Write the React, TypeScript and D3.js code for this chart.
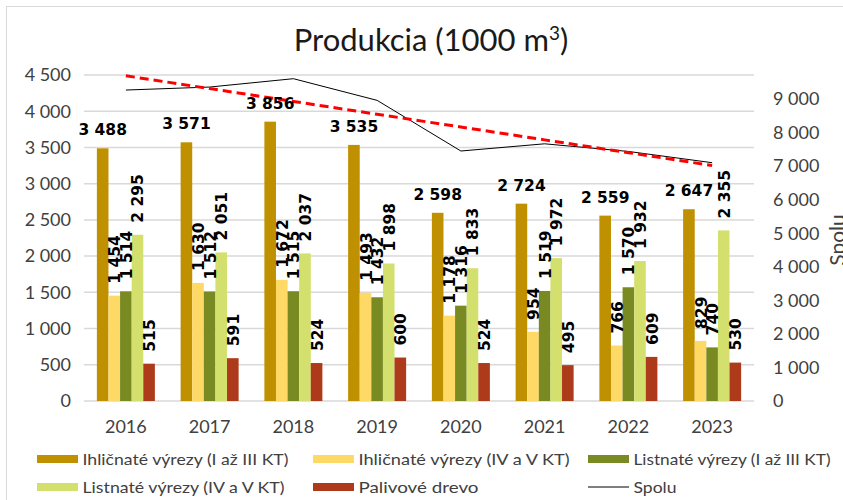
import React from 'react';
import * as d3 from 'd3';

const years = ['2016', '2017', '2018', '2019', '2020', '2021', '2022', '2023'];
const seriesNames = [
  'Ihličnaté výrezy (I až III KT)',
  'Ihličnaté výrezy (IV a V KT)',
  'Listnaté výrezy (I až III KT)',
  'Listnaté výrezy (IV a V KT)',
  'Palivové drevo',
];
const ihlI = [3488, 3571, 3856, 3535, 2598, 2724, 2559, 2647];
const ihlIV = [1454, 1630, 1672, 1493, 1178, 954, 766, 829];
const listI = [1514, 1512, 1515, 1432, 1316, 1519, 1570, 740];
const listIV = [2295, 2051, 2037, 1898, 1833, 1972, 1932, 2355];
const palivo = [515, 591, 524, 600, 524, 495, 609, 530];
const spolu = [9266, 9355, 9604, 8958, 7449, 7664, 7436, 7101];
const leftTicks = [0, 500, 1000, 1500, 2000, 2500, 3000, 3500, 4000, 4500];
const rightTicks = [0, 1000, 2000, 3000, 4000, 5000, 6000, 7000, 8000, 9000];

const colors = ['#BF9000', '#FFD966', '#7A8A22', '#D4E06E', '#AE3A1C'];
const seriesData = [ihlI, ihlIV, listI, listIV, palivo];

const fmt = (v: number) => d3.format(',')(v).replace(/,/g, ' ');

export default function App() {
  const W = 843, H = 500;
  const left = 84, right = 754, top = 75, bottom = 401;
  const x = d3.scaleBand<string>().domain(years).range([left, right]).paddingInner(0.3075).paddingOuter(0.15375);
  const xs = d3.scaleBand<number>().domain(d3.range(5)).range([0, x.bandwidth()]);
  const y = d3.scaleLinear().domain([0, 4500]).range([bottom, top]);
  const y2 = d3.scaleLinear().domain([0, 9714]).range([bottom, top]);
  const cx = (yr: string) => (x(yr) as number) + x.bandwidth() / 2;

  // linear trendline of Spolu (least squares)
  const idx = spolu.map((_, i) => i + 1);
  const mx = d3.mean(idx) as number;
  const my = d3.mean(spolu) as number;
  const slope = d3.sum(idx.map((xi, i) => (xi - mx) * (spolu[i] - my))) / d3.sum(idx.map((xi) => (xi - mx) ** 2));
  const trend = idx.map((xi) => my + slope * (xi - mx));

  const line = d3.line<number>().x((_, i) => cx(years[i])).y((d) => y2(d));

  const axisFont = 'Lato, "Open Sans", sans-serif';
  const labelFont = '"DejaVu Sans", sans-serif';
  const textColor = '#404040';

  const legendItems = [
    { row: 0, col: 0, type: 'bar', color: colors[0], name: seriesNames[0], len: 206 },
    { row: 0, col: 1, type: 'bar', color: colors[1], name: seriesNames[1], len: 211 },
    { row: 0, col: 2, type: 'bar', color: colors[2], name: seriesNames[2], len: 197 },
    { row: 1, col: 0, type: 'bar', color: colors[3], name: seriesNames[3], len: 202 },
    { row: 1, col: 1, type: 'bar', color: colors[4], name: seriesNames[4], len: 120 },
    { row: 1, col: 2, type: 'line', color: '#000', name: 'Spolu', len: 43 },
  ];
  const legendX = [37, 313, 588];
  const legendY = [459, 487];

  return (
    <svg width={W} height={H} style={{ position: 'absolute', left: 0, top: 0, background: '#fff' }}>
      <rect x={6.5} y={6.5} width={900} height={600} fill="#fff" stroke="#d9d9d9" strokeWidth={1} />
      <text x={431} y={51} textAnchor="middle" fontFamily={axisFont} fontSize={31} fill="#1a1a1a">
        Produkcia (1000 m<tspan dy={-11} fontSize={19}>3</tspan><tspan dy={11}>)</tspan>
      </text>

      {leftTicks.map((t) => (
        <g key={'g' + t}>
          <line x1={left} x2={right} y1={y(t)} y2={y(t)} stroke="#d9d9d9" strokeWidth={1.5} />
          <text x={71} y={y(t)} dy="0.35em" textAnchor="end" fontFamily={axisFont} fontSize={18} fill={textColor}>
            {fmt(t)}
          </text>
        </g>
      ))}
      {rightTicks.map((t) => (
        <text key={'r' + t} x={773} y={y2(t)} dy="0.35em" textAnchor="start" fontFamily={axisFont} fontSize={18} fill={textColor}>
          {fmt(t)}
        </text>
      ))}
      <text transform={`translate(845,240) rotate(-90)`} textAnchor="middle" fontFamily={axisFont} fontSize={21} fill={textColor}>
        Spolu
      </text>
      {years.map((yr) => (
        <text key={'x' + yr} x={cx(yr)} y={433} textAnchor="middle" fontFamily={axisFont} fontSize={18} fill={textColor}>
          {yr}
        </text>
      ))}

      {seriesData.map((vals, s) => (
        <g key={'s' + s}>
          {vals.map((v, i) => {
            const bx = (x(years[i]) as number) + (xs(s) as number);
            return <rect key={i} x={bx} y={y(v)} width={xs.bandwidth()} height={bottom - y(v)} fill={colors[s]} />;
          })}
        </g>
      ))}

      <path d={line(spolu) as string} fill="none" stroke="#000" strokeWidth={1} />
      <path d={line(trend) as string} fill="none" stroke="#FF0000" strokeWidth={3} strokeDasharray="9 5" />

      {seriesData.map((vals, s) => (
        <g key={'l' + s}>
          {vals.map((v, i) => {
            const bc = (x(years[i]) as number) + (xs(s) as number) + xs.bandwidth() / 2;
            if (s === 0) {
              return (
                <text key={i} x={bc} y={y(v) - 13} textAnchor="middle" fontFamily={labelFont} fontWeight="bold" fontSize={15.5} fill="#000">
                  {fmt(v)}
                </text>
              );
            }
            return (
              <text key={i} transform={`translate(${bc + 1},${y(v) - 12}) rotate(-90)`} textAnchor="start" dominantBaseline="central" fontFamily={labelFont} fontWeight="bold" fontSize={15.5} fill="#000">
                {fmt(v)}
              </text>
            );
          })}
        </g>
      ))}

      {legendItems.map((it, k) => {
        const lx = legendX[it.col];
        const ly = legendY[it.row];
        return (
          <g key={'lg' + k}>
            {it.type === 'bar' ? (
              <rect x={lx} y={ly - 4} width={41} height={8} fill={it.color} />
            ) : (
              <line x1={lx} x2={lx + 41} y1={ly} y2={ly} stroke="#000" strokeWidth={1} />
            )}
            <text x={lx + 45.5} y={ly} dy="0.35em" fontFamily={axisFont} fontSize={16} fill={textColor} textLength={it.len} lengthAdjust="spacingAndGlyphs">
              {it.name}
            </text>
          </g>
        );
      })}
    </svg>
  );
}
